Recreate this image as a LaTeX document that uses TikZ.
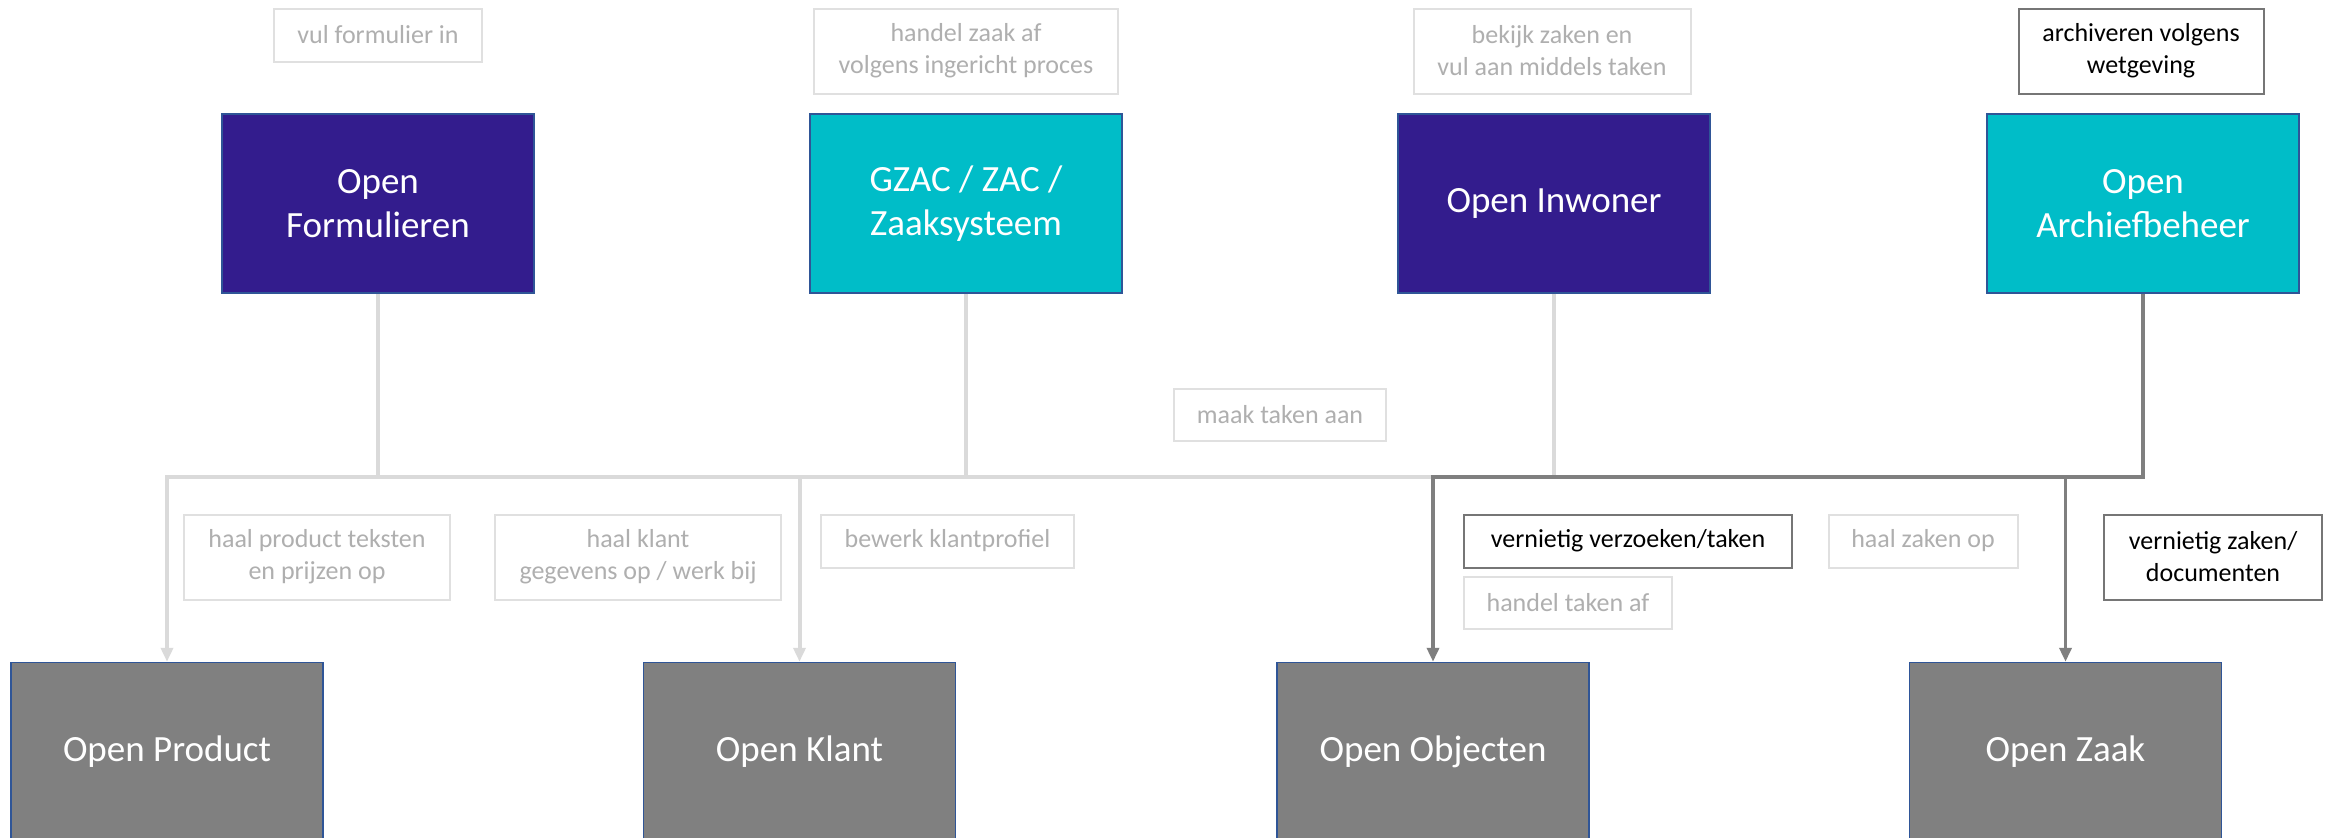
\documentclass[tikz,border=0pt]{standalone}
\usepackage{fontspec}
\setmainfont{Carlito}
\usetikzlibrary{arrows.meta,calc}
\definecolor{ipurple}{RGB}{51,28,141}
\definecolor{iteal}{RGB}{0,189,200}
\definecolor{igray}{RGB}{128,128,128}
\definecolor{iborder}{RGB}{47,85,151}
\definecolor{lline}{RGB}{218,218,218}
\definecolor{dline}{RGB}{127,127,127}
\definecolor{ltext}{RGB}{175,175,175}
\definecolor{lborder}{RGB}{224,224,224}
\definecolor{dborder}{RGB}{118,118,118}
\begin{document}
\begin{tikzpicture}[x=0.5pt,y=-0.5pt,
  sys/.style={draw=iborder, line width=0.75pt, text=white, align=center,
    minimum width=156pt, minimum height=89.5pt, inner sep=0pt,
    font=\fontsize{18.5}{21.75}\selectfont},
  purplebox/.style={sys, fill=ipurple},
  tealbox/.style={sys, fill=iteal},
  graybox/.style={sys, fill=igray},
  lbl/.style 2 args={draw=lborder, line width=1pt, text=ltext, align=center,
    inner sep=0pt, minimum width=#1, minimum height=#2,
    font=\fontsize{13}{16}\selectfont},
  dlbl/.style 2 args={lbl={#1}{#2}, draw=dborder, text=black},
  lconn/.style={draw=lline, line width=2pt},
  dconn/.style={draw=dline, line width=1.75pt},
  tip/.style={-{Triangle[length=7pt,width=6pt]}}
]
\useasboundingbox (0,0) rectangle (2328,837);
\clip (0,0) rectangle (2328,837);
\fill[white] (0,0) rectangle (2328,837);

% top systems
\node[purplebox] (form) at (378,203.5) {Open\\Formulieren};
\node[tealbox]   (gzac) at (966,203.5) {GZAC / ZAC /\\Zaaksysteem};
\node[purplebox] (inw)  at (1554,203.5) {Open Inwoner};
\node[tealbox]   (arch) at (2143,203.5) {Open\\Archiefbeheer};

% bottom systems
\node[graybox] (prod)  at (167,752)  {Open Product};
\node[graybox] (klant) at (799.5,752) {Open Klant};
\node[graybox] (obj)   at (1433,752) {Open Objecten};
\node[graybox] (zaak)  at (2065.5,752) {Open Zaak};

% labels
\node[lbl={104pt}{26.5pt}] (l1) at (378,35) {vul formulier in};
\node[lbl={152pt}{42.5pt}] (l2) at (966,51) {handel zaak af\\volgens ingericht proces};
\node[lbl={138.5pt}{42.5pt}] (l3) at (1552,51) {bekijk zaken en\\vul aan middels taken};
\node[dlbl={122.5pt}{42.5pt}] (l4) at (2141,51) {archiveren volgens\\wetgeving};
\node[lbl={106pt}{26pt}] (l5) at (1280,415) {maak taken aan};
\node[lbl={133pt}{42.5pt}] (l6) at (317,557) {haal product teksten\\en prijzen op};
\node[lbl={143pt}{42.5pt}] (l7) at (638,557) {haal klant\\gegevens op / werk bij};
\node[lbl={126.5pt}{26.5pt}] (l8) at (947.5,541) {bewerk klantprofiel};
\node[dlbl={164pt}{26.5pt}] (l9) at (1628,541) {vernietig verzoeken/taken};
\node[lbl={104pt}{26pt}] (l10) at (1568,603) {handel taken af};
\node[lbl={94.5pt}{26.5pt}] (l11) at (1923,541) {haal zaken op};
\node[dlbl={109pt}{42.5pt}] (l12) at (2213,557) {vernietig zaken/\\documenten};

% bus level
\coordinate (bus) at (0,477);

% light connectors
\draw[lconn,tip] (form.south) -- (form.south |- bus) -| (prod.north);
\draw[lconn,tip] (form.south |- bus) -| (klant.north);
\draw[lconn] (gzac.south) -- (gzac.south |- bus) -- (klant.north |- bus);
\draw[lconn] (inw.south) -- (inw.south |- bus) -- (klant.north |- bus);

% dark connectors
\draw[dconn,tip] (arch.south) -- (arch.south |- bus) -| (obj.north);
\draw[dconn,tip] (arch.south |- bus) -| (zaak.north);
\end{tikzpicture}
\end{document}
